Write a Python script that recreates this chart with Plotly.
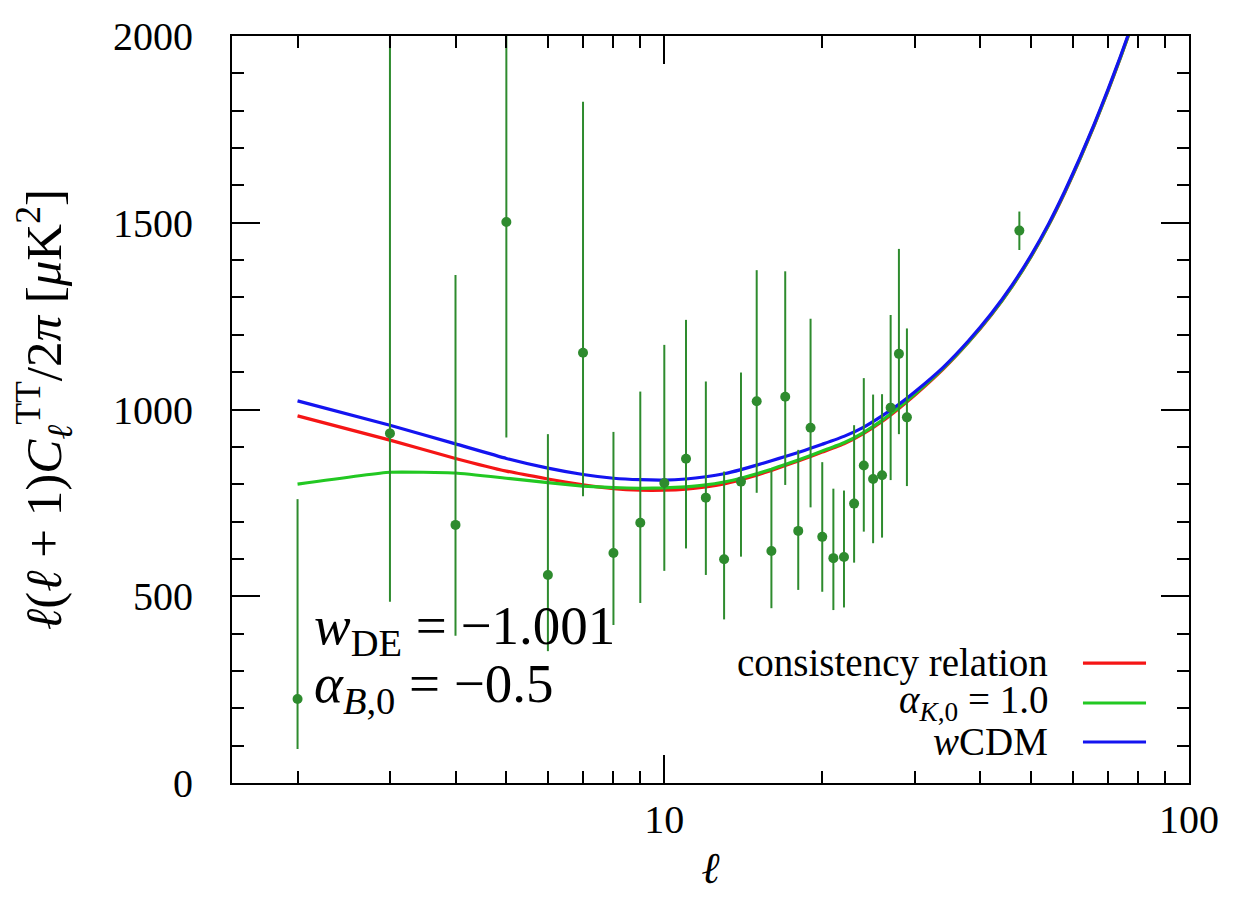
import plotly.graph_objects as go

# Observed low-ell TT band powers (ell, D_ell, top/bottom of the error bar), in muK^2
ell_data = [2, 3, 4, 5, 6, 7, 8, 9, 10, 11, 12, 13, 14, 15, 16, 17, 18, 19, 20,
            21, 22, 23, 24, 25, 26, 27, 28, 29, 47.5]
D_data = [225, 936, 691, 1502, 557, 1152, 616, 697, 803, 868, 764, 599, 807, 1022,
          621, 1034, 675, 951, 659, 602, 605, 748, 850, 814, 824, 1005, 1149, 979, 1479]
D_top = [760, 2700, 1360, 2600, 934, 1824, 940, 1048, 1173, 1240, 1075, 834, 1099, 1373,
         838, 1370, 892, 1243, 859, 788, 783, 958, 1084, 1040, 1041, 1253, 1430, 1217, 1530]
D_bottom = [91, 485, 394, 925, 353, 768, 423, 482, 568, 628, 557, 438, 606, 777,
            468, 798, 517, 738, 512, 463, 470, 590, 673, 642, 657, 811, 934, 795, 1427]

# Model curves
ell_curve = [2, 3, 4, 5, 6, 7, 8, 9, 10, 11, 12, 13, 14, 15, 16, 17, 18, 19, 20,
             22, 24, 26, 28, 30, 34, 38, 42, 46, 50, 54, 58, 62, 66, 70, 74, 78, 82]
D_consistency = [983, 918, 869, 835, 814, 798, 788, 784, 784, 787, 793, 801, 812, 824,
                 837, 850, 862, 874, 886, 908, 936, 968, 1003, 1038, 1108, 1180, 1253,
                 1329, 1409, 1493, 1581, 1671, 1761, 1851, 1941, 2031, 2121]
D_alphaK = [800, 832, 830, 816, 804, 795, 791, 789, 790, 793, 798, 806, 816, 828,
            840, 853, 865, 877, 889, 911, 939, 971, 1006, 1041, 1110, 1181, 1254,
            1330, 1410, 1494, 1582, 1672, 1762, 1852, 1942, 2032, 2122]
D_wcdm = [1023, 958, 908, 869, 843, 826, 816, 812, 811, 814, 820, 828, 839, 851,
          863, 874, 885, 896, 907, 928, 953, 983, 1014, 1047, 1113, 1184, 1257,
          1333, 1413, 1497, 1585, 1675, 1765, 1855, 1945, 2035, 2125]

series = [("consistency relation", D_consistency, "#f51515"),
          ("<i>α</i><sub><i>K</i>,0</sub> = 1.0", D_alphaK, "#22c822"),
          ("<i>w</i>CDM", D_wcdm, "#1414f0")]

FONT = "Liberation Serif"
err_plus = [t - d for t, d in zip(D_top, D_data)]
err_minus = [d - b for d, b in zip(D_data, D_bottom)]

fig = go.Figure()
for name, vals, col in series:
    fig.add_trace(go.Scatter(x=ell_curve, y=vals, mode="lines", name=name,
                             line=dict(color=col, width=3.2, shape="spline", smoothing=0.4),
                             showlegend=False))

fig.add_trace(go.Scatter(x=ell_data, y=D_data, mode="markers", showlegend=False,
                         marker=dict(color="#2e8b2e", size=10),
                         error_y=dict(type="data", array=err_plus, arrayminus=err_minus,
                                      color="#2e8b2e", thickness=2, width=0)))

# legend drawn by hand: text right-aligned, line sample on the right
leg_y = [0.1606, 0.1071, 0.0549]
for (name, vals, col), yy in zip(series, leg_y):
    fig.add_annotation(x=0.8548, y=yy, xref="paper", yref="paper", text=name,
                       showarrow=False, xanchor="right", yanchor="middle",
                       font=dict(family=FONT, size=39, color="black"))
    fig.add_shape(type="line", xref="paper", yref="paper", x0=0.8892, x1=0.9551,
                  y0=yy, y1=yy, line=dict(color=col, width=3.2))

fig.add_annotation(x=0.084, y=0.206, xref="paper", yref="paper",
                   text="<i>w</i><sub>DE</sub> = −1.001", showarrow=False,
                   xanchor="left", yanchor="middle",
                   font=dict(family=FONT, size=55, color="black"))
fig.add_annotation(x=0.084, y=0.128, xref="paper", yref="paper",
                   text="<i>α</i><sub><i>B</i>,0</sub> = −0.5", showarrow=False,
                   xanchor="left", yanchor="middle",
                   font=dict(family=FONT, size=55, color="black"))

axis_common = dict(showline=True, linecolor="black", linewidth=2, mirror="allticks",
                   ticks="inside", ticklen=28, tickwidth=2, tickcolor="black",
                   showgrid=False, zeroline=False, automargin=False,
                   tickfont=dict(family=FONT, size=40, color="black"))

fig.update_xaxes(type="log", range=[0.1761, 2], tickvals=[10, 100], ticktext=["10", "100"],
                 ticklabelstandoff=0,
                 minor=dict(ticks="inside", ticklen=12, tickwidth=2, tickcolor="black",
                            tickvals=[2, 3, 4, 5, 6, 7, 8, 9, 20, 30, 40, 50, 60, 70, 80, 90]),
                 title=dict(text="<i>ℓ</i>", font=dict(family=FONT, size=44, color="black"),
                            standoff=11),
                 **axis_common)
fig.update_yaxes(range=[0, 2000], tickvals=[0, 500, 1000, 1500, 2000],
                 ticklabelstandoff=29,
                 minor=dict(ticks="inside", ticklen=12, tickwidth=2, tickcolor="black", dtick=100),
                 title=dict(text="<i>ℓ</i>(<i>ℓ</i> + 1)<i>C</i><sub><i>ℓ</i></sub><sup>TT</sup>/2<i>π</i> [<i>μ</i>K<sup>2</sup>]",
                            font=dict(family=FONT, size=51, color="black"), standoff=36),
                 **axis_common)

# page body has an 8px margin, so the figure itself starts at (8, 8)
fig.update_layout(width=1255, height=900, plot_bgcolor="white", paper_bgcolor="white",
                  margin=dict(l=224, r=74, t=28, b=125), showlegend=False)

fig.write_html("out.html")
